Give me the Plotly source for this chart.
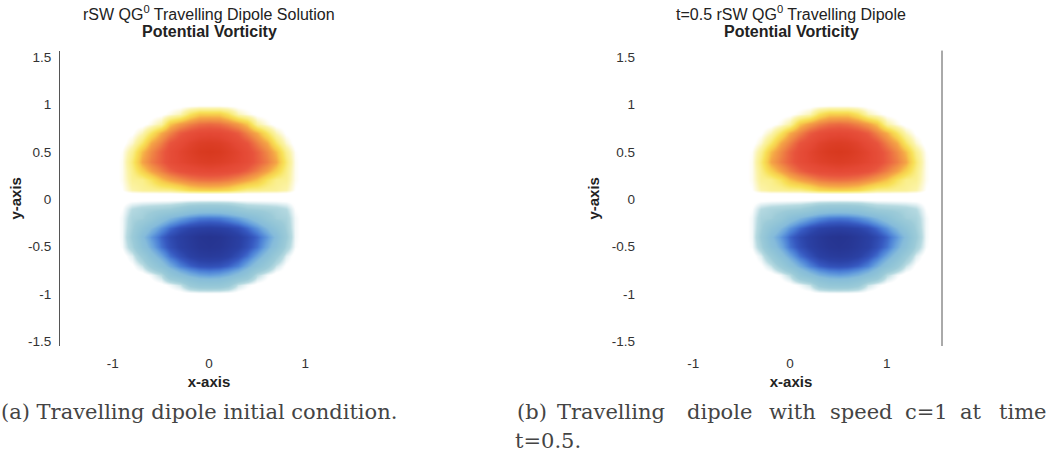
import plotly.graph_objects as go

W, H = 1055, 464

# ---------------- data ----------------
# grid positions of the sampled potential-vorticity field
x_grid_a = [-1.0, -0.9, -0.8, -0.7, -0.6, -0.5, -0.4, -0.3, -0.2, -0.1, 0.0,
            0.1, 0.2, 0.3, 0.4, 0.5, 0.6, 0.7, 0.8, 0.9, 1.0]
# panel (b): dipole has travelled to x = 0.5 (c = 1, t = 0.5)
x_grid_b = [-0.5, -0.4, -0.3, -0.2, -0.1, 0.0, 0.1, 0.2, 0.3, 0.4, 0.5,
            0.6, 0.7, 0.8, 0.9, 1.0, 1.1, 1.2, 1.3, 1.4, 1.5]
y_grid = [-1.0, -0.9, -0.8, -0.7, -0.6, -0.5, -0.4, -0.3, -0.2, -0.1, 0.0,
          0.06, 0.1, 0.2, 0.3, 0.4, 0.5, 0.6, 0.7, 0.8, 0.9, 1.0]

# potential vorticity (percent of max), rows bottom (y=-1) to top (y=1)
pv_percent = [
    [0, 0, 0, 0, 0, 0, 0, 0, 0, 0, 0, 0, 0, 0, 0, 0, 0, 0, 0, 0, 0],
    [0, 0, 0, 0, 0, -1, -5, -11, -28, -35, -36, -35, -28, -11, -5, -1, 0, 0, 0, 0, 0],
    [0, 0, 0, 0, -5, -14, -38, -50, -59, -64, -66, -64, -59, -50, -38, -14, -5, 0, 0, 0, 0],
    [0, 0, -2, -11, -28, -46, -61, -73, -80, -84, -85, -84, -80, -73, -61, -46, -28, -11, -2, 0, 0],
    [0, 0, -8, -27, -48, -63, -77, -85, -91, -94, -95, -94, -91, -85, -77, -63, -48, -27, -8, 0, 0],
    [0, -4, -20, -45, -61, -76, -85, -91, -95, -98, -99, -98, -95, -91, -85, -76, -61, -45, -20, -4, 0],
    [0, -5, -26, -52, -67, -79, -87, -92, -96, -99, -100, -99, -96, -92, -87, -79, -67, -52, -26, -5, 0],
    [0, -5, -22, -40, -55, -68, -78, -85, -89, -91, -92, -91, -89, -85, -78, -68, -55, -40, -22, -5, 0],
    [0, -5, -19, -22, -32, -46, -56, -64, -70, -74, -75, -74, -70, -64, -56, -46, -32, -22, -19, -5, 0],
    [0, -3, -14, -18, -20, -22, -24, -30, -38, -41, -42, -41, -38, -30, -24, -22, -20, -18, -14, -3, 0],
    [0, 0, 0, 0, 0, 0, 0, 0, 0, 0, 0, 0, 0, 0, 0, 0, 0, 0, 0, 0, 0],
    [0, 0, 0, 0, 0, 0, 0, 0, 0, 0, 0, 0, 0, 0, 0, 0, 0, 0, 0, 0, 0],
    [0, 3, 14, 18, 19, 21, 22, 28, 36, 39, 40, 39, 36, 28, 22, 21, 19, 18, 14, 3, 0],
    [0, 5, 19, 21, 30, 44, 53, 60, 66, 69, 70, 69, 66, 60, 53, 44, 30, 21, 19, 5, 0],
    [0, 5, 22, 39, 53, 65, 75, 82, 86, 88, 89, 88, 86, 82, 75, 65, 53, 39, 22, 5, 0],
    [0, 5, 26, 52, 66, 76, 86, 91, 94, 96, 97, 96, 94, 91, 86, 76, 66, 52, 26, 5, 0],
    [0, 4, 20, 46, 62, 75, 86, 92, 96, 99, 100, 99, 96, 92, 86, 75, 62, 46, 20, 4, 0],
    [0, 0, 9, 28, 51, 65, 80, 87, 93, 96, 97, 96, 93, 87, 80, 65, 51, 28, 9, 0, 0],
    [0, 0, 2, 12, 30, 50, 64, 77, 84, 88, 89, 88, 84, 77, 64, 50, 30, 12, 2, 0, 0],
    [0, 0, 0, 0, 6, 15, 43, 55, 64, 70, 72, 70, 64, 55, 43, 15, 6, 0, 0, 0, 0],
    [0, 0, 0, 0, 0, 1, 6, 12, 30, 40, 40, 40, 30, 12, 6, 1, 0, 0, 0, 0, 0],
    [0, 0, 0, 0, 0, 0, 0, 0, 0, 0, 0, 0, 0, 0, 0, 0, 0, 0, 0, 0, 0],
]

x_tick_vals = [-1, 0, 1]
x_tick_text = ["-1", "0", "1"]
y_tick_vals = [-1.5, -1, -0.5, 0, 0.5, 1, 1.5]
y_tick_text = ["-1.5", "-1", "-0.5", "0", "0.5", "1", "1.5"]

title_a = "rSW QG<sup>0</sup> Travelling Dipole Solution"
title_b = "t=0.5 rSW QG<sup>0</sup> Travelling Dipole"
subtitle = "<b>Potential Vorticity</b>"
x_title = "<b>x-axis</b>"
y_title = "<b>y-axis</b>"
caption_a = "(a) Travelling dipole initial condition."
caption_b_words = ["(b)", "Travelling", "dipole", "with", "speed", "c=1", "at", "time"]
caption_b_line2 = "t=0.5."

# ---------------- style ----------------
def n(z):
    return (z + 100) / 200.0

colorscale = [
    [n(-100), "#263490"],
    [n(-90), "#2b42a6"],
    [n(-82), "#3658c0"],
    [n(-74), "#4a7ed6"],
    [n(-64), "#6aa4dd"],
    [n(-54), "#86bcda"],
    [n(-40), "#90c4d7"],
    [n(-25), "#9ccbd8"],
    [n(-14), "#b6dae1"],
    [n(-8), "#e0eff2"],
    [n(-3), "#ffffff"],
    [n(3), "#ffffff"],
    [n(8), "#fdf9d8"],
    [n(14), "#fbf4aa"],
    [n(22), "#faee88"],
    [n(32), "#f8e158"],
    [n(42), "#f7cb4c"],
    [n(52), "#f5a546"],
    [n(62), "#f08a45"],
    [n(72), "#ec6a42"],
    [n(80), "#e8543d"],
    [n(90), "#e44834"],
    [n(100), "#d8391f"],
]

fig = go.Figure()
for xs, xa, ya in [(x_grid_a, "x", "y"), (x_grid_b, "x2", "y2")]:
    fig.add_trace(go.Heatmap(
        x=xs, y=y_grid, z=pv_percent, xaxis=xa, yaxis=ya,
        zmin=-100, zmax=100, zsmooth="best", colorscale=colorscale,
        showscale=False, hoverinfo="skip",
    ))

sans = "Liberation Sans, Arial, sans-serif"
serif = "DejaVu Serif, serif"
tick_font = dict(family=sans, size=13.5, color="#333")
axis_title_font = dict(family=sans, size=15, color="#222")
ydom = [1 - 348 / H, 1 - 50 / H]

def xaxis(dom, rng, anchor):
    return dict(domain=dom, range=rng, anchor=anchor, tickvals=x_tick_vals, ticktext=x_tick_text,
                showgrid=False, zeroline=False, showline=False, ticks="", ticklabelstandoff=7,
                tickfont=tick_font, fixedrange=True,
                title=dict(text=x_title, font=axis_title_font, standoff=6))

def yaxis(rng, anchor, showline, standoff, title_standoff):
    return dict(domain=ydom, range=rng, anchor=anchor, tickvals=y_tick_vals, ticktext=y_tick_text,
                showgrid=False, zeroline=False, showline=showline, linecolor="#555", linewidth=1,
                ticks="", ticklabelstandoff=standoff, tickfont=tick_font, fixedrange=True,
                title=dict(text=y_title, font=axis_title_font, standoff=title_standoff))

fig.update_layout(
    width=W, height=H, margin=dict(l=0, r=0, t=0, b=0),
    paper_bgcolor="white", plot_bgcolor="white", showlegend=False,
    xaxis=xaxis([60 / W, 358 / W], [-1.55, 1.55], "y"),
    yaxis=yaxis([-1.55, 1.57], "x", True, 5, 2),
    xaxis2=xaxis([640 / W, 942 / W], [-1.55, 1.57], "y2"),
    yaxis2=yaxis([-1.55, 1.57], "x2", False, 4, 8),
)

# right-hand frame line of panel (b)
fig.add_shape(type="line", xref="x2 domain", yref="y2 domain", x0=1, x1=1, y0=0, y1=1,
              line=dict(color="#555", width=1))

def ann(text, px, py, size=16, family=sans, color="#222", xanchor="center"):
    fig.add_annotation(text=text, x=px / W, y=1 - py / H, xref="paper", yref="paper",
                       showarrow=False, xanchor=xanchor, yanchor="middle",
                       font=dict(family=family, size=size, color=color))

ann(title_a, 209, 12)
ann(subtitle, 209, 31)
ann(title_b, 791, 12)
ann(subtitle, 791, 31)

ann(caption_a, -1, 415, size=21, family=serif, color="#444", xanchor="left")
word_x = [515, 555, 685, 767, 828, 903, 958, 997]
for w, px in zip(caption_b_words, word_x):
    ann(w, px, 415, size=21, family=serif, color="#444", xanchor="left")
ann(caption_b_line2, 513, 444, size=21, family=serif, color="#444", xanchor="left")

fig.write_html("out.html", config={"displayModeBar": False},
               post_script="document.body.style.margin='0';")
